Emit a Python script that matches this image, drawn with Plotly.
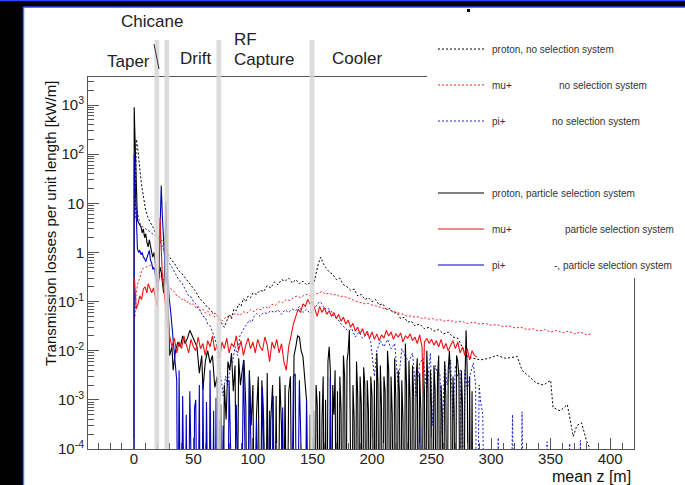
import numpy as np
import plotly.graph_objects as go

# ---------------------------------------------------------------------------
# Beam-loss profiles along the front end (kW/m versus mean z in metres).
# A value of 0 marks an empty bin (drawn below the axis floor, as ROOT does).
# ---------------------------------------------------------------------------

# proton, no selection system (dotted black)
proton_nosel_z = [1, 2, 3, 4, 5, 6, 7, 8, 9, 10, 11, 12, 14, 16, 18, 20, 22, 24, 26, 28,
                  30, 32, 34, 36, 38, 40, 42, 44, 46, 48, 50, 52, 54, 56, 58, 60, 62, 64, 66, 68,
                  70, 72, 74, 76, 78, 80, 82, 84, 86, 88, 90, 92, 94, 96, 98, 100, 103, 106, 109, 112,
                  115, 118, 121, 124, 127, 130, 133, 136, 139, 142, 145, 148, 151, 153, 155, 157, 159, 161, 164, 167,
                  170, 173, 176, 179, 182, 185, 188, 191, 194, 197, 200, 203, 206, 209, 212, 215, 218, 221, 224, 227,
                  230, 233, 236, 240, 244, 248, 252, 256, 260, 264, 268, 272, 276, 280, 285, 291, 298, 305, 312, 318,
                  322, 326, 332, 338, 344, 350, 352, 358, 364, 366, 369, 372, 376, 380, 383]
proton_nosel = [5, 200, 150, 80, 50, 30, 20, 13, 10, 7, 6, 5, 4, 3.3, 2.5, 2.1, 1.9, 1.7, 1.4, 1.0,
                0.8, 0.7, 0.6, 0.5, 0.42, 0.38, 0.33, 0.28, 0.25, 0.22, 0.19, 0.16, 0.13, 0.11, 0.10, 0.085, 0.075, 0.07, 0.06, 0.058,
                0.05, 0.045, 0.035, 0.03, 0.04, 0.055, 0.045, 0.07, 0.065, 0.09, 0.08, 0.115, 0.1, 0.13, 0.12, 0.15, 0.14, 0.17, 0.16, 0.21,
                0.19, 0.25, 0.22, 0.28, 0.26, 0.3, 0.24, 0.28, 0.23, 0.26, 0.22, 0.24, 0.23, 0.4, 0.6, 0.8, 0.6, 0.5, 0.4, 0.36,
                0.28, 0.3, 0.22, 0.2, 0.17, 0.18, 0.13, 0.14, 0.11, 0.12, 0.1, 0.11, 0.085, 0.09, 0.07, 0.072, 0.058, 0.06, 0.045, 0.048,
                0.038, 0.04, 0.032, 0.035, 0.028, 0.03, 0.025, 0.027, 0.022, 0.024, 0.019, 0.018, 0.012, 0.0076, 0.007, 0.0065, 0.007, 0.008, 0.007, 0.0075,
                0.0076, 0.004, 0.003, 0.0022, 0.002, 0.0025, 0.0007, 0.0006, 0.0008, 0.00045, 0.00018, 0.0003, 0.00034, 0.00015, 0.0001]

# mu+, no selection system (dotted red)
mu_nosel_z = [1, 2, 3.5, 5, 6.5, 8, 10, 12, 14, 16, 18, 20, 22, 24, 26, 28, 30, 32, 34, 36,
              38, 40, 42, 44, 46, 48, 50, 52, 54, 56, 58, 60, 62, 64, 66, 68, 70, 72, 74, 76,
              78, 80, 83, 86, 89, 92, 95, 98, 101, 104, 107, 110, 113, 116, 119, 122, 125, 128, 131, 134,
              137, 140, 143, 146, 149, 152, 155, 158, 161, 164, 167, 170, 173, 176, 179, 182, 185, 188, 191, 194,
              197, 200, 203, 206, 209, 212, 215, 218, 221, 224, 227, 230, 233, 236, 239, 242, 245, 248, 251, 254,
              257, 260, 265, 270, 275, 280, 285, 290, 295, 300, 305, 310, 315, 320, 325, 330, 335, 340, 345, 350,
              355, 360, 365, 370, 375, 380, 384]
mu_nosel = [0.05, 0.15, 0.25, 0.3, 0.42, 0.48, 0.5, 0.52, 0.55, 0.5, 0.45, 0.4, 0.35, 0.3, 0.25, 0.22, 0.2, 0.17, 0.16, 0.13,
            0.125, 0.11, 0.115, 0.095, 0.1, 0.085, 0.09, 0.075, 0.08, 0.065, 0.07, 0.058, 0.065, 0.052, 0.058, 0.048, 0.053, 0.044, 0.04, 0.045,
            0.05, 0.046, 0.053, 0.058, 0.052, 0.062, 0.058, 0.068, 0.062, 0.072, 0.068, 0.08, 0.072, 0.088, 0.085, 0.1, 0.095, 0.11, 0.105, 0.12,
            0.13, 0.12, 0.135, 0.14, 0.125, 0.14, 0.15, 0.16, 0.14, 0.15, 0.135, 0.14, 0.125, 0.13, 0.12, 0.115, 0.105, 0.1, 0.098, 0.09,
            0.092, 0.085, 0.082, 0.078, 0.074, 0.07, 0.066, 0.062, 0.06, 0.056, 0.054, 0.05, 0.051, 0.048, 0.049, 0.045, 0.047, 0.044, 0.045, 0.042,
            0.043, 0.04, 0.042, 0.038, 0.04, 0.036, 0.038, 0.035, 0.036, 0.033, 0.034, 0.031, 0.032, 0.029, 0.03, 0.027, 0.028, 0.025, 0.027, 0.024,
            0.026, 0.023, 0.025, 0.022, 0.024, 0.021, 0.022]

# pi+, no selection system (dotted blue)
pi_nosel_z = [1, 2, 3, 4, 5, 6, 8, 10, 12, 14, 16, 18, 20, 22, 24, 26, 28, 30, 32, 34,
              36, 38, 40, 42, 44, 46, 48, 50, 52, 54, 56, 58, 60, 62, 64, 66, 68, 70, 72, 74,
              75, 77, 79, 81, 83, 85, 87, 89, 91, 93, 95, 97, 99, 101, 103, 106, 109, 112, 115, 118,
              121, 124, 127, 130, 133, 136, 139, 142, 145, 148, 151, 154, 156, 158, 160, 162, 165, 168, 171, 174,
              177, 180, 183, 186, 189, 192, 196, 199, 202, 204, 207, 210, 213, 216, 219, 222, 225, 228, 231, 234,
              237, 240, 243, 246, 249, 251, 253, 255, 257, 259, 261, 263, 266, 268, 270, 272, 274, 276, 278, 280,
              282, 285, 287, 288, 290, 291, 293, 295, 305, 306, 307, 316, 318, 320, 324, 326, 328, 345, 347, 349,
              364, 366, 368, 373, 375, 377]
pi_nosel = [10, 8, 6, 4.5, 4, 3.5, 3.2, 3, 2.8, 2.6, 2.4, 2.2, 2.0, 1.7, 1.3, 1.0, 0.75, 0.6, 0.5, 0.4,
            0.33, 0.27, 0.25, 0.2, 0.17, 0.13, 0.125, 0.1, 0.09, 0.07, 0.065, 0.05, 0.048, 0.035, 0.032, 0.025, 0.018, 0.012, 0.004, 0.002,
            0.0012, 0.003, 0.002, 0.005, 0.006, 0.012, 0.008, 0.02, 0.025, 0.03, 0.035, 0.042, 0.038, 0.05, 0.057, 0.05, 0.06, 0.057, 0.065, 0.06,
            0.068, 0.055, 0.068, 0.06, 0.07, 0.065, 0.08, 0.06, 0.07, 0.057, 0.07, 0.085, 0.1, 0.09, 0.07, 0.075, 0.068, 0.05, 0.045, 0.035,
            0.03, 0.025, 0.028, 0.019, 0.024, 0.018, 0.022, 0.015, 0.003, 0.01, 0.016, 0.012, 0.017, 0.011, 0.014, 0.002, 0.011, 0.0076, 0.006, 0.009,
            0.0012, 0.0056, 0.007, 0.0015, 0.009, 0.0003, 0.005, 0.0035, 0.0035, 0.0002, 0.006, 0.002, 0.0065, 0.0004, 0.005, 0.003, 0.004, 0, 0.004, 0.0016,
            0.003, 0.0056, 0.002, 0, 0.002, 0.001, 0.0005, 0, 0, 0.00017, 0, 0, 0.0005, 0, 0, 0.00057, 0, 0, 0.00014, 0,
            0, 0.00013, 0, 0, 0.00015, 0]

# proton, particle selection system (solid black)
proton_sel_z = [0, 0.3, 1, 2, 3, 4, 5, 6, 7, 8, 9, 10, 11, 12, 13, 14, 15, 16, 17, 18,
                19, 20, 21, 22, 23, 24, 25, 26, 27, 27.8, 28.5, 29.5, 30, 32, 33, 35, 37, 39, 41, 43,
                45, 47, 49, 51, 53, 55, 57, 58, 60, 62, 64, 66, 68, 70, 71.5, 73, 74.5, 76, 77.5, 79,
                80.5, 82, 83.5, 85, 86.5, 88, 89.5, 91, 92.5, 94, 95.5, 97, 98.5, 100, 101.5, 103, 104.5, 106, 107.5, 109,
                110.5, 112, 113.5, 115, 116.5, 118, 119.5, 121, 122.5, 124, 125.5, 127, 128.5, 130, 131.5, 133, 134.5, 136, 137.5, 139,
                140.5, 142, 143.5, 145, 146.5, 148, 149.5,
                150, 151, 152, 153, 154, 155, 156, 157, 158, 159, 160, 161, 162, 163, 164, 165, 166, 167, 168, 169,
                170, 171, 172, 173, 174, 175, 176, 177, 178, 179, 180, 181, 182, 183, 184, 185, 186, 187, 188, 189,
                190, 191, 192, 193, 194, 195, 196, 197, 198, 199, 200, 201, 202, 203, 204, 205, 206, 207, 208, 209,
                210, 211, 212, 213, 214, 215, 216, 217, 218, 219, 220, 221, 222, 223, 224, 225, 226, 227, 228, 229,
                230, 231, 232, 233, 234, 235, 236, 237, 238, 239, 240, 241, 242, 243, 244, 245, 246, 247, 248, 249,
                250, 251, 252, 253, 254, 255, 256, 257, 258, 259, 260, 261, 262, 263, 264, 265, 266, 267, 268, 269,
                270, 271, 272, 273, 274, 275, 276, 277, 278, 279, 280, 281, 282, 283, 284, 285]
proton_sel = [0, 900, 200, 30, 4.5, 4.0, 3.5, 3.3, 2.5, 3.0, 2.0, 2.4, 1.6, 1.3, 1.8, 1.2, 1.0, 0.8, 1.0, 0.6,
              0.4, 0.25, 0.3, 0.5, 0.4, 0.2, 0.15, 0.6, 11, 2, 0.1, 0.03, 0.008, 0.012, 0.004, 0.01, 0.015, 0.012, 0.02, 0.014,
              0.018, 0.026, 0.02, 0.015, 0.012, 0.0035, 0.008, 0.0016, 0.006, 0.01, 0.0056, 0.008, 0.0018, 0.003, 0, 0.0008, 0, 0.002, 0.0004, 0.006,
              0.004, 0.009, 0.0015, 0.005, 0, 0.007, 0.002, 0.004, 0.0065, 0.0008, 0, 0.004, 0.0003, 0.002, 0, 0.0005, 0.003, 0, 0.0025, 0.0004,
              0, 0.0035, 0, 0.0004, 0.002, 0, 0.0012, 0, 0.003, 0.00028, 0, 0.002, 0, 0.0014, 0.003, 0, 0.008, 0.012, 0.02, 0.019,
              0.01, 0.0076, 0.003, 0.001, 0, 0.0005, 0,
              0, 0.0006, 0, 0.002, 0.0008, 0, 0.0015, 0, 0.0004, 0.003, 0, 0.001, 0, 0.006, 0.012, 0.004, 0, 0.002, 0.0005, 0.004,
              0, 0.0015, 0, 0.003, 0.0006, 0, 0.008, 0.003, 0, 0.006, 0.01, 0.026, 0.002, 0, 0.002, 0.0004, 0, 0.006, 0.0012, 0,
              0.003, 0.0008, 0, 0.0046, 0.002, 0, 0.0025, 0.0006, 0, 0.003, 0.0012, 0, 0.0025, 0, 0.009, 0.002, 0, 0.005, 0.0007, 0,
              0.003, 0.0015, 0, 0.01, 0.004, 0, 0.003, 0.0005, 0, 0.007, 0.001, 0, 0.004, 0.0015, 0, 0.0025, 0.0004, 0, 0.014, 0.002,
              0, 0.006, 0.0009, 0, 0.005, 0.0012, 0, 0.003, 0.007, 0, 0.0035, 0.0006, 0, 0.006, 0.0015, 0, 0.01, 0.002, 0, 0.004,
              0.0007, 0, 0.005, 0.0015, 0, 0.003, 0.008, 0, 0.002, 0.0005, 0, 0.006, 0.0012, 0, 0.004, 0.01, 0.002, 0, 0.003, 0.0006,
              0, 0.008, 0.006, 0.003, 0, 0.004, 0.0008, 0, 0.002, 0.026, 0.003, 0, 0.003, 0, 0.0015, 0]

# mu+, particle selection system (solid red)
mu_sel_z = [0.5, 2, 3.5, 5, 6.5, 8, 9.5, 11, 12, 13.5, 15, 16.5, 18, 19.5, 21, 22, 23, 24, 25.5, 27,
            28.5, 30, 32, 34, 36, 38, 40, 42, 44, 46, 48, 50, 52, 54, 56, 58, 60, 62, 64, 66,
            68, 70, 72, 74, 76, 78, 80, 82, 84, 86, 88, 90, 92, 94, 96, 98, 100, 102, 104, 106,
            108, 110, 112, 114, 116, 118, 120, 122, 124, 126, 128, 130, 132, 134, 136, 138, 140, 142, 144, 146,
            148, 150, 152, 154, 156, 158, 160, 162, 164, 166, 168, 170, 172, 174, 176, 178, 180, 182, 184, 186,
            188, 190, 192, 194, 196, 198, 200, 202, 204, 206, 208, 210, 212, 214, 216, 218, 220, 222, 224, 226,
            228, 230, 232, 234, 236, 238, 240, 242, 243, 244, 246, 248, 250, 252, 254, 256, 258, 260, 262, 264,
            266, 268, 270, 272, 274, 276, 278, 280, 282, 284, 286, 288]
mu_sel = [0.3, 0.07, 0.09, 0.13, 0.11, 0.18, 0.2, 0.15, 0.23, 0.18, 0.15, 0.19, 0.12, 0.08, 0.5, 5, 1.2, 0.3, 0.15, 0.06,
          0.03, 0.02, 0.012, 0.018, 0.009, 0.015, 0.011, 0.02, 0.013, 0.009, 0.017, 0.012, 0.01, 0.019, 0.011, 0.014, 0.008, 0.016, 0.012, 0.02,
          0.01, 0.013, 0.007, 0.015, 0.011, 0.018, 0.009, 0.014, 0.012, 0.02, 0.01, 0.016, 0.008, 0.013, 0.018, 0.011, 0.015, 0.009, 0.017, 0.012,
          0.01, 0.019, 0.013, 0.006, 0.015, 0.011, 0.017, 0.009, 0.014, 0.006, 0.004, 0.012, 0.02, 0.035, 0.05, 0.07, 0.06, 0.09, 0.08, 0.11,
          0.09, 0.1, 0.07, 0.05, 0.08, 0.06, 0.075, 0.055, 0.065, 0.05, 0.06, 0.045, 0.055, 0.04, 0.048, 0.035, 0.042, 0.03, 0.036, 0.025,
          0.03, 0.022, 0.028, 0.02, 0.025, 0.018, 0.024, 0.017, 0.022, 0.016, 0.021, 0.018, 0.026, 0.02, 0.024, 0.017, 0.022, 0.019, 0.023, 0.015,
          0.02, 0.018, 0.022, 0.016, 0.019, 0.014, 0.021, 0.012, 0.0015, 0.015, 0.018, 0.014, 0.017, 0.013, 0.016, 0.012, 0.017, 0.011, 0.014, 0.01,
          0.013, 0.016, 0.011, 0.015, 0.009, 0.012, 0.008, 0.011, 0.0065, 0.01, 0.008, 0.0075]

# pi+, particle selection system (solid blue)
pi_sel_z = [0, 0.3, 1, 2, 3, 4, 5, 6, 7, 8, 9, 10, 11, 12, 13, 14, 15, 16, 17, 18,
            19, 20, 21, 22, 23, 24, 25, 26, 27, 28, 29, 30, 31, 32, 33, 34, 35, 36, 37, 38,
            39.5, 41, 42, 43, 44, 45.5, 47, 48.5, 50, 51, 52, 53.5, 55, 56, 57, 58, 59.5, 61, 62, 63,
            64, 65.5, 67, 68, 69, 70.5, 72, 73, 75, 76.5, 78.5, 80, 81.5, 84, 86, 87.5, 90, 92, 93.5, 95.5,
            97, 98.5, 101, 103, 104.5, 106.5, 108, 109.5, 112, 114, 115.5, 117, 118.5, 123.5, 125, 126.5, 132, 134, 135.5, 137,
            139, 140.5, 143.5, 145, 146.5, 163.5, 165, 166.5, 238.5, 240, 241.5]
pi_sel = [0, 100, 30, 4.5, 1.2, 1.0, 1.1, 0.9, 1.0, 0.8, 0.75, 0.65, 0.8, 1.0, 1.1, 0.7, 0.6, 0.45, 0.5, 0.35,
          0.27, 0.15, 0.3, 3, 23, 5, 1.5, 0.5, 0.23, 0.4, 0.15, 0.1, 0.06, 0.03, 0.02, 0.008, 0.004, 0.0025, 0, 0.004,
          0, 0.0012, 0, 0, 0.0005, 0, 0.0015, 0, 0, 0.0007, 0.001, 0, 0.002, 0, 0, 0.0025, 0, 0.0009, 0, 0,
          0.004, 0, 0.0006, 0, 0.0011, 0, 0.0004, 0, 0.0003, 0, 0, 0.0025, 0, 0, 0.0008, 0, 0, 0.0065, 0, 0,
          0.0035, 0, 0, 0.0004, 0, 0, 0.0018, 0, 0, 0.0006, 0, 0.0012, 0, 0, 0.0007, 0, 0, 0.003, 0.0034, 0,
          0.0025, 0, 0, 0.001, 0, 0, 0.0029, 0, 0, 0.0003, 0]

# beamline sections: boundary positions (m)
section_edges = [19.3, 27.7, 71.4, 149.6]
y_tickvals = [1e-4, 1e-3, 1e-2, 1e-1, 1, 10, 1e2, 1e3]
y_ticktext = ["10<sup>-4</sup>", "10<sup>-3</sup>", "10<sup>-2</sup>", "10<sup>-1</sup>",
              "1", "10", "10<sup>2</sup>", "10<sup>3</sup>"]

legend_rows = [
    ("proton, no selection system", None, "#000000", "2px,2px"),
    ("mu+", "no selection system", "#ee2222", "2px,2px"),
    ("pi+", "no selection system", "#2222cc", "2px,2px"),
    ("proton, particle selection system", None, "#000000", "solid"),
    ("mu+", "particle selection system", "#ee1111", "solid"),
    ("pi+", "-, particle selection system", "#0000bb", "solid"),
]

# ---------------------------------------------------------------------------
W, H = 685, 485
L, R, T, B = 88, 634, 77, 449          # frame of the plotting area (px)


def fx(xp):
    return (xp - L) / (R - L)


def fy(yp):
    return (B - yp) / (B - T)


FLOOR = 1e-7   # empty bins are drawn down to here, well below the axis


def floor(v):
    a = np.asarray(v, dtype=float)
    return np.where(a > 0, a, FLOOR)


FONT = "Liberation Sans, Arial, Helvetica, sans-serif"

fig = go.Figure()
series = [
    (proton_nosel_z, proton_nosel, "#000000", "2px,2px", 1.0),
    (mu_nosel_z, mu_nosel, "#ee2222", "2px,2px", 1.0),
    (pi_nosel_z, pi_nosel, "#2222cc", "2px,2px", 1.0),
    (proton_sel_z, proton_sel, "#000000", "solid", 1.1),
    (pi_sel_z, pi_sel, "#0000bb", "solid", 1.1),
    (mu_sel_z, mu_sel, "#ee1111", "solid", 1.1),
]
for z, v, col, dash, w in series:
    assert len(z) == len(v)
    fig.add_trace(go.Scatter(x=z, y=floor(v), mode="lines",
                             line=dict(color=col, width=w, dash=dash),
                             showlegend=False, hoverinfo="skip"))

shapes = []
# section boundaries (light grey bars, extending above the frame)
for e in section_edges:
    shapes.append(dict(type="rect", xref="x", yref="paper", x0=e - 2.0, x1=e + 2.0,
                       y0=0, y1=fy(40), fillcolor="#d6d6d6", opacity=0.85,
                       line=dict(width=0), layer="above"))
# white legend panel covering the upper right of the frame
shapes.append(dict(type="rect", xref="paper", yref="paper", x0=fx(427), x1=fx(W + 2),
                   y0=fy(278), y1=fy(8), fillcolor="white", line=dict(width=0), layer="above"))
# slide border: dark header bar and left edge
shapes.append(dict(type="rect", xref="paper", yref="paper", x0=fx(-2), x1=fx(W + 2),
                   y0=fy(7), y1=fy(-2), fillcolor="black", line=dict(width=0), layer="above"))
shapes.append(dict(type="rect", xref="paper", yref="paper", x0=fx(-2), x1=fx(23),
                   y0=fy(H + 2), y1=fy(-2), fillcolor="black", line=dict(width=0), layer="above"))
shapes.append(dict(type="line", xref="paper", yref="paper", x0=fx(0), x1=fx(W),
                   y0=fy(0.5), y1=fy(0.5), line=dict(color="#2a48ff", width=1.5), layer="above"))
shapes.append(dict(type="line", xref="paper", yref="paper", x0=fx(23.5), x1=fx(W),
                   y0=fy(7), y1=fy(7), line=dict(color="#2a48ff", width=1.5), layer="above"))
shapes.append(dict(type="line", xref="paper", yref="paper", x0=fx(23.5), x1=fx(23.5),
                   y0=fy(H), y1=fy(7), line=dict(color="#4a6cff", width=1.5), layer="above"))
shapes.append(dict(type="rect", xref="paper", yref="paper", x0=fx(467), x1=fx(470),
                   y0=fy(12), y1=fy(9), fillcolor="black", line=dict(width=0), layer="above"))
# pointer from the "Chicane" label to its section
shapes.append(dict(type="line", xref="paper", yref="paper", x0=fx(154), x1=fx(159),
                   y0=fy(44), y1=fy(69), line=dict(color="#333333", width=1), layer="above"))

annotations = []


def label(text, xp, yp, size, anchor="center", color="#222222"):
    annotations.append(dict(text=text, x=fx(xp), y=fy(yp), xref="paper", yref="paper",
                            xanchor=anchor, yanchor="middle", showarrow=False,
                            font=dict(family=FONT, size=size, color=color)))


label("Chicane", 152, 22, 17)
label("Taper", 128, 61, 17)
label("Drift", 195, 58, 17)
label("RF", 232, 39, 17, "left")
label("Capture", 232, 59, 17, "left")
label("Cooler", 357, 58, 17)

# legend
row_y = [49, 85, 121, 193, 229, 265]
second_x = [None, 557, 550, None, 563, 552]
for (first, second, col, dash), yy, sx in zip(legend_rows, row_y, second_x):
    shapes.append(dict(type="line", xref="paper", yref="paper", x0=fx(438), x1=fx(484),
                       y0=fy(yy), y1=fy(yy),
                       line=dict(color=col, width=1.2, dash=dash), layer="above"))
    label(first, 490, yy, 10, "left", "#333333")
    if second:
        label(second, sx, yy, 10, "left", "#333333")

# axis titles
annotations.append(dict(text="Transmission losses per unit length [kW/m]", x=fx(50), y=fy(224),
                        xref="paper", yref="paper", textangle=-90, showarrow=False,
                        xanchor="center", yanchor="middle",
                        font=dict(family=FONT, size=15, color="#111111")))
annotations.append(dict(text="mean z [m]", x=fx(633), y=fy(476.5), xref="paper", yref="paper",
                        showarrow=False, xanchor="right", yanchor="middle",
                        font=dict(family=FONT, size=16, color="#111111")))

axis_col = "#555555"
fig.update_layout(
    width=W, height=H,
    margin=dict(l=L, r=W - R, t=T, b=H - B, pad=0),
    paper_bgcolor="white", plot_bgcolor="white",
    shapes=shapes, annotations=annotations,
    xaxis=dict(range=[-38.5, 420], showgrid=False, zeroline=False,
               showline=True, linecolor=axis_col, linewidth=1, mirror=True,
               ticks="inside", ticklen=11, tickcolor=axis_col, tickwidth=1,
               tickvals=list(range(0, 401, 50)), ticklabelstandoff=-4,
               minor=dict(ticks="inside", ticklen=6, tickcolor=axis_col, dtick=10, tick0=0),
               tickfont=dict(family=FONT, size=15, color="#222222")),
    yaxis=dict(type="log", range=[-4, 3.57], showgrid=False, zeroline=False,
               showline=True, linecolor=axis_col, linewidth=1, mirror=True,
               ticks="inside", ticklen=11, tickcolor=axis_col, tickwidth=1,
               tickvals=y_tickvals, ticktext=y_ticktext,
               minor=dict(ticks="inside", ticklen=6, tickcolor=axis_col,
                          tickvals=[m * 10.0 ** k for k in range(-4, 4) for m in range(2, 10)]),
               tickfont=dict(family=FONT, size=15, color="#222222")),
)

fig.write_html("out.html")
